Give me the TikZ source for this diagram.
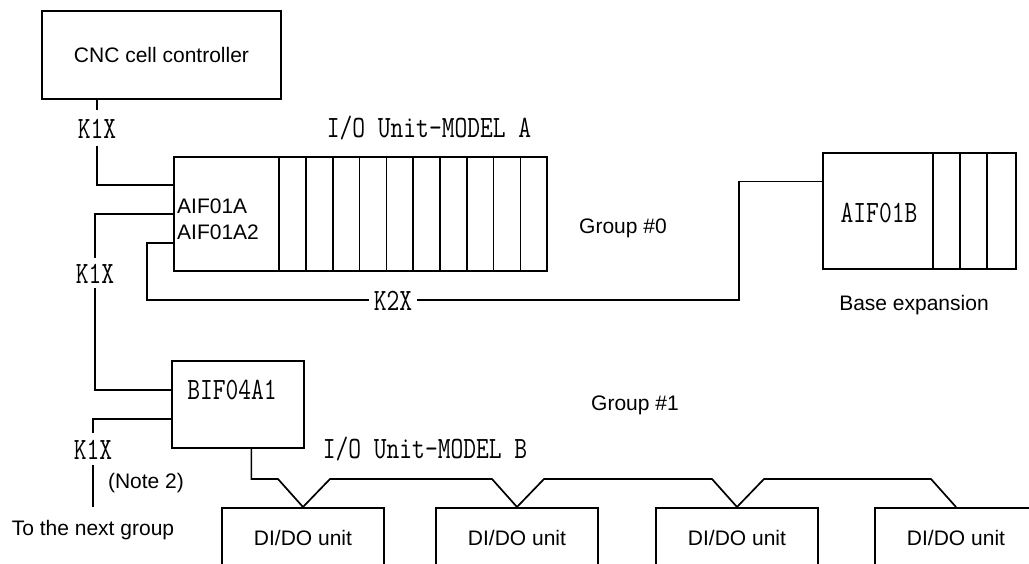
\documentclass[tikz,border=0pt]{standalone}
\usepackage{fontspec}
\setmainfont{Liberation Sans}
\usetikzlibrary{calc}

\newcommand{\condensed}[1]{\scalebox{0.8}[1]{#1}}

\tikzset{
  wire/.style={line width=1.7pt},
  unitbox/.style={draw, line width=1.7pt, inner sep=0pt},
  sanslabel/.style={font=\fontsize{21}{25}\selectfont, inner sep=0pt},
  typelabel/.style={font=\ttfamily\fontsize{31}{35}\selectfont, inner sep=0pt},
}

\begin{document}
\begin{tikzpicture}[x=1pt,y=-1pt]
  \path[use as bounding box, clip] (0,0) rectangle (1029,563);

  % CNC cell controller
  \node[unitbox, sanslabel, minimum width=239pt, minimum height=88pt] (cnc) at (161.5,55) {CNC cell controller};

  % I/O Unit-MODEL A
  \node[unitbox, minimum width=373pt, minimum height=114pt] (ioa) at (360.5,214) {};
  \foreach \i [evaluate=\i as \sx using 106+26.8*\i] in {0,...,9}
    \draw[wire] ([xshift=\sx pt]ioa.north west) -- ([xshift=\sx pt]ioa.south west);
  \node[sanslabel, anchor=base west] (aif1) at (177,213) {AIF01A};
  \node[sanslabel, anchor=base west] (aif2) at (177,239) {AIF01A2};
  \node[typelabel, anchor=base] (titlea) at (429,137) {\condensed{I/O Unit-MODEL A}};
  \node[sanslabel, anchor=base] (grp0) at (623,233) {Group \#0};

  % Base expansion
  \node[unitbox, minimum width=193pt, minimum height=116pt] (aifb) at (919.5,211) {};
  \foreach \sx in {111,138,165}
    \draw[wire] ([xshift=\sx pt]aifb.north west) -- ([xshift=\sx pt]aifb.south west);
  \node[typelabel, anchor=base] (aifbtext) at (879,222) {\condensed{AIF01B}};
  \node[sanslabel, anchor=base] (baseexp) at (914,310) {Base expansion};

  % I/O Unit-MODEL B
  \node[unitbox, minimum width=132pt, minimum height=87pt] (bif) at (238,404.5) {};
  \node[typelabel, anchor=base] (biftext) at (232,399) {\condensed{BIF04A1}};
  \node[typelabel, anchor=base] (titleb) at (425,458) {\condensed{I/O Unit-MODEL B}};
  \node[sanslabel, anchor=base] (grp1) at (635,410) {Group \#1};
  \foreach \name/\cx in {dio1/303, dio2/517, dio3/737, dio4/956}
    \node[unitbox, sanslabel, minimum width=162pt, minimum height=60pt, anchor=north] (\name) at (\cx,507) {DI/DO unit};

  % Cable labels
  \node[typelabel, inner ysep=8pt, anchor=base] (k1a) at (97,138) {\condensed{K1X}};
  \node[typelabel, inner ysep=5pt, anchor=base] (k1b) at (95,283) {\condensed{K1X}};
  \node[typelabel, inner ysep=6pt, anchor=base] (k1c) at (93,459) {\condensed{K1X}};
  \node[typelabel, inner xsep=5pt, anchor=base] (k2) at (393,310) {\condensed{K2X}};
  \node[sanslabel, anchor=base] (note) at (146,488) {(Note 2)};
  \node[sanslabel, anchor=base] (tonext) at (93,535) {To the next group};
  \coordinate (nextend) at (93,507);

  % Ports
  \coordinate (pa1) at ($(ioa.north west)!.25!(ioa.south west)$);
  \coordinate (pa2) at ($(ioa.north west)!.5!(ioa.south west)$);
  \coordinate (pa3) at ($(ioa.north west)!.75!(ioa.south west)$);
  \coordinate (pb1) at ($(bif.north west)!.333!(bif.south west)$);
  \coordinate (pb2) at ($(bif.north west)!.667!(bif.south west)$);
  \coordinate (px) at ($(aifb.north west)!.25!(aifb.south west)$);
  \coordinate (pbus) at ($(bif.south west)!.6!(bif.south east)$);

  % K1X cables
  \draw[wire] (cnc.south -| k1a) -- (k1a.north);
  \draw[wire] (k1a.south) |- (pa1);
  \draw[wire] (pa2) -| (k1b.north);
  \draw[wire] (k1b.south) |- (pb1);
  \draw[wire] (pb2) -| (k1c.north);
  \draw[wire] (k1c.south) -- (nextend);

  % K2X cable
  \draw[wire] (pa3) -- ++(-26,0) |- (k2.west);
  \draw[wire] (k2.east) -| ([xshift=-83pt]px) -- (px);

  % Model B bus
  \draw[wire] (pbus) |- ([xshift=-25pt,yshift=28pt]dio1.north) -- (dio1.north) -- ++(27,-28)
    -- ([xshift=-25pt,yshift=28pt]dio2.north) -- (dio2.north) -- ++(27,-28)
    -- ([xshift=-25pt,yshift=28pt]dio3.north) -- (dio3.north) -- ++(27,-28)
    -- ([xshift=-25pt,yshift=28pt]dio4.north) -- (dio4.north);
\end{tikzpicture}
\end{document}
